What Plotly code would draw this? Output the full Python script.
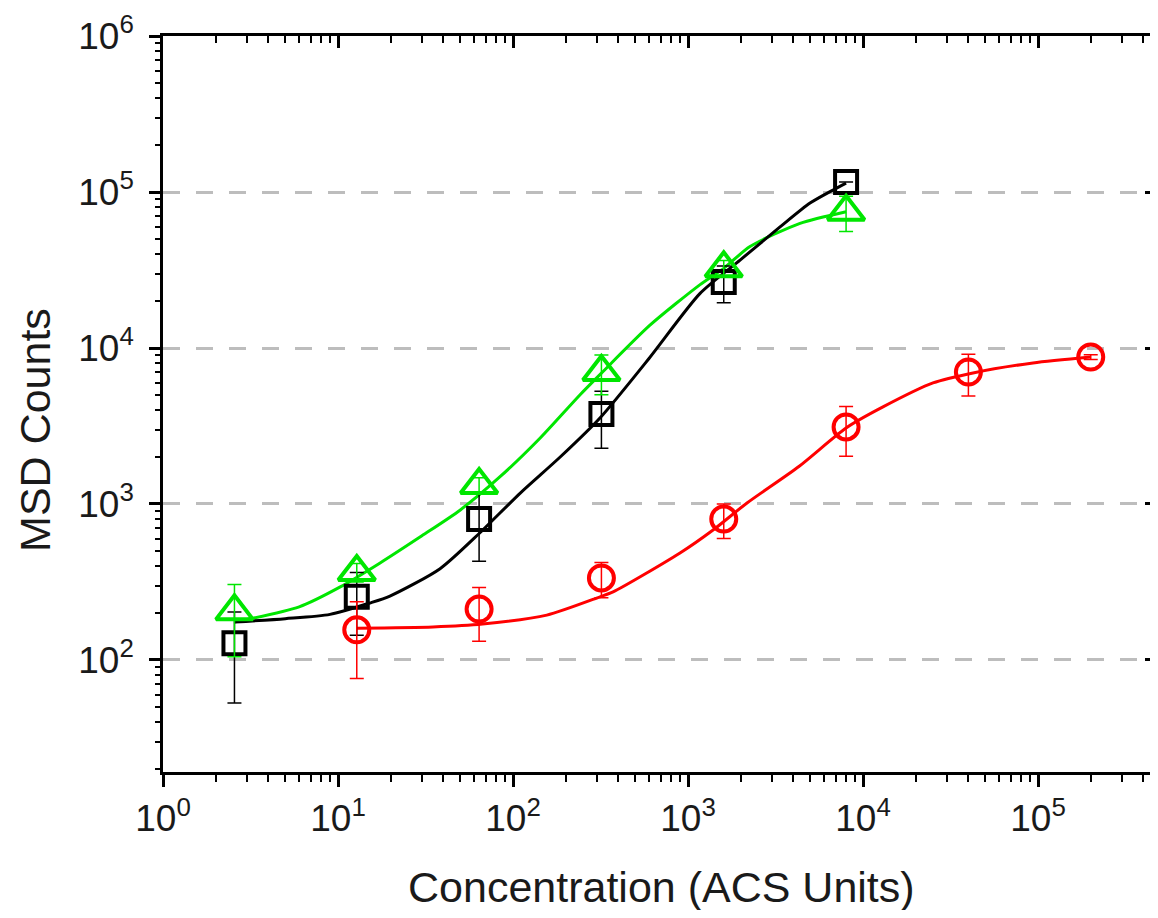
import plotly.graph_objects as go

# ---- measured points ----
conc = [2.56, 12.8, 64, 320, 1600, 8000]
black_y = [128, 254, 801, 3780, 26500, 116000]
black_err = [75, 110, 372, 1500, 7000, None]

green_y = [205, 366, 1325, 7020, 32400, 74800]
green_err = [100, 50, 150, 2000, 4000, 19000]

red_x = [12.8, 64, 320, 1600, 8000, 40000, 200000]
red_y = [156, 212, 336, 801, 3120, 7020, 8750]
red_err = [80, 80, 85, 200, 1100, 2100, 300]

# ---- fitted curves ----
black_fit_x = [2.56, 5, 9, 15.2, 19.8, 38.3, 64.5, 110, 186, 314, 600, 1172, 1983, 3356, 4980, 6740, 8000]
black_fit_y = [175, 184, 196, 232, 257, 385, 652, 1175, 2000, 3560, 8600, 22400, 36600, 59700, 84900, 103000, 114000]

green_fit_x = [2.56, 6, 10.3, 17.4, 29.4, 50, 84, 143, 241, 320, 606, 1172, 1600, 2260, 4365, 8000]
green_fit_y = [175, 219, 294, 419, 614, 916, 1490, 2650, 5000, 6900, 14000, 25500, 32400, 44700, 63000, 74800]

red_fit_x = [12.8, 34.9, 67, 156, 314, 373, 900, 1390, 2173, 4300, 8000, 13000, 25100, 42500, 93600, 200000]
red_fit_y = [160, 163, 170, 194, 254, 273, 485, 681, 1015, 1740, 3070, 4190, 5970, 6920, 8020, 8750]

# ---- axis ticks ----
x_major = [1, 10, 100, 1000, 10000, 100000]
x_major_text = ["10<sup>0</sup>", "10<sup>1</sup>", "10<sup>2</sup>", "10<sup>3</sup>", "10<sup>4</sup>", "10<sup>5</sup>"]
y_major = [100, 1000, 10000, 100000, 1000000]
y_major_text = ["10<sup>2</sup>", "10<sup>3</sup>", "10<sup>4</sup>", "10<sup>5</sup>", "10<sup>6</sup>"]

x_minor = [d * 10 ** k for k in range(0, 6) for d in range(2, 10) if d * 10 ** k < 4.7e5]
y_minor = [d * 10 ** k for k in range(1, 6) for d in range(2, 10) if d * 10 ** k > 19.2]

BLACK = "#000000"
GREEN = "#00e600"
RED = "#ff0000"

fig = go.Figure()

# curves
fig.add_trace(go.Scatter(x=green_fit_x, y=green_fit_y, mode="lines",
                         line=dict(color=GREEN, width=3, shape="spline", smoothing=0.7),
                         showlegend=False, hoverinfo="skip"))
fig.add_trace(go.Scatter(x=black_fit_x, y=black_fit_y, mode="lines",
                         line=dict(color=BLACK, width=3, shape="spline", smoothing=0.7),
                         showlegend=False, hoverinfo="skip"))
fig.add_trace(go.Scatter(x=red_fit_x, y=red_fit_y, mode="lines",
                         line=dict(color=RED, width=3, shape="spline", smoothing=0.7),
                         showlegend=False, hoverinfo="skip"))

# markers with error bars
fig.add_trace(go.Scatter(x=conc, y=black_y, mode="markers",
                         marker=dict(symbol="square-open", size=22, color=BLACK, line=dict(width=4, color=BLACK)),
                         error_y=dict(type="data", array=black_err, visible=True, color=BLACK, thickness=1.5, width=7),
                         showlegend=False))
fig.add_trace(go.Scatter(x=conc, y=green_y, mode="markers",
                         marker=dict(symbol="triangle-up-open", size=32, color=GREEN, line=dict(width=4, color=GREEN)),
                         error_y=dict(type="data", array=green_err, visible=True, color=GREEN, thickness=1.5, width=7),
                         showlegend=False))
fig.add_trace(go.Scatter(x=red_x, y=red_y, mode="markers",
                         marker=dict(symbol="circle-open", size=25, color=RED, line=dict(width=4, color=RED)),
                         error_y=dict(type="data", array=red_err, visible=True, color=RED, thickness=1.5, width=7),
                         showlegend=False))

# empty trace to anchor mirrored axes
fig.add_trace(go.Scatter(x=[], y=[], xaxis="x2", yaxis="y2", showlegend=False, hoverinfo="skip"))

XR = [0, 5.674]
YR = [1.282, 6]
FONT = "Liberation Sans, Arial, sans-serif"

fig.update_layout(
    width=1150, height=902,
    margin=dict(l=155, r=2, t=28, b=138),
    paper_bgcolor="white", plot_bgcolor="white",
    showlegend=False,
    font=dict(family=FONT, color="#1a1a1a"),
    xaxis=dict(type="log", range=XR, tickmode="array", tickvals=x_major, ticktext=x_major_text,
               ticks="outside", ticklen=12, tickwidth=2.5, tickcolor="black", automargin=False,
               showline=True, linecolor="black", linewidth=2.5, showgrid=False, zeroline=False,
               tickfont=dict(size=37, family=FONT, color="#1a1a1a"),
               minor=dict(tickmode="array", tickvals=x_minor, ticks="outside", ticklen=7,
                          tickwidth=2, tickcolor="black", showgrid=False)),
    yaxis=dict(type="log", range=YR, tickmode="array", tickvals=y_major, ticktext=y_major_text,
               ticks="outside", ticklen=11, tickwidth=2.5, tickcolor="black", automargin=False,
               ticklabelstandoff=8,
               showline=True, linecolor="black", linewidth=2.5,
               showgrid=True, gridcolor="#bdbdbd", gridwidth=2.5, griddash="17px,16px", zeroline=False,
               tickfont=dict(size=37, family=FONT, color="#1a1a1a"),
               minor=dict(tickmode="array", tickvals=y_minor, ticks="outside", ticklen=5,
                          tickwidth=2, tickcolor="black", showgrid=False)),
    xaxis2=dict(type="log", range=XR, overlaying="x", side="top", anchor="y2", automargin=False,
                tickmode="array", tickvals=x_major, ticks="inside", ticklen=12, tickwidth=2.5,
                tickcolor="black", showticklabels=False, showline=True, linecolor="black",
                linewidth=2.5, showgrid=False, zeroline=False,
                minor=dict(tickmode="array", tickvals=x_minor, ticks="inside", ticklen=7,
                           tickwidth=2, tickcolor="black", showgrid=False)),
    yaxis2=dict(type="log", range=YR, overlaying="y", side="right", anchor="x2", automargin=False,
                tickmode="array", tickvals=y_major, ticks="inside", ticklen=11, tickwidth=2.5,
                tickcolor="black", showticklabels=False, showline=True, linecolor="black",
                linewidth=2.5, showgrid=False, zeroline=False,
                minor=dict(tickmode="array", tickvals=y_minor, ticks="inside", ticklen=5,
                           tickwidth=2, tickcolor="black", showgrid=False)),
    annotations=[
        dict(text="MSD Counts", xref="paper", yref="paper", x=-0.129, y=0.4647,
             xanchor="center", yanchor="middle", textangle=-90, showarrow=False,
             font=dict(size=43, family=FONT, color="#1a1a1a")),
        dict(text="Concentration (ACS Units)", xref="paper", yref="paper", x=0.502, y=-0.156,
             xanchor="center", yanchor="middle", showarrow=False,
             font=dict(size=43, family=FONT, color="#1a1a1a")),
    ],
)

fig.write_html("out.html")
